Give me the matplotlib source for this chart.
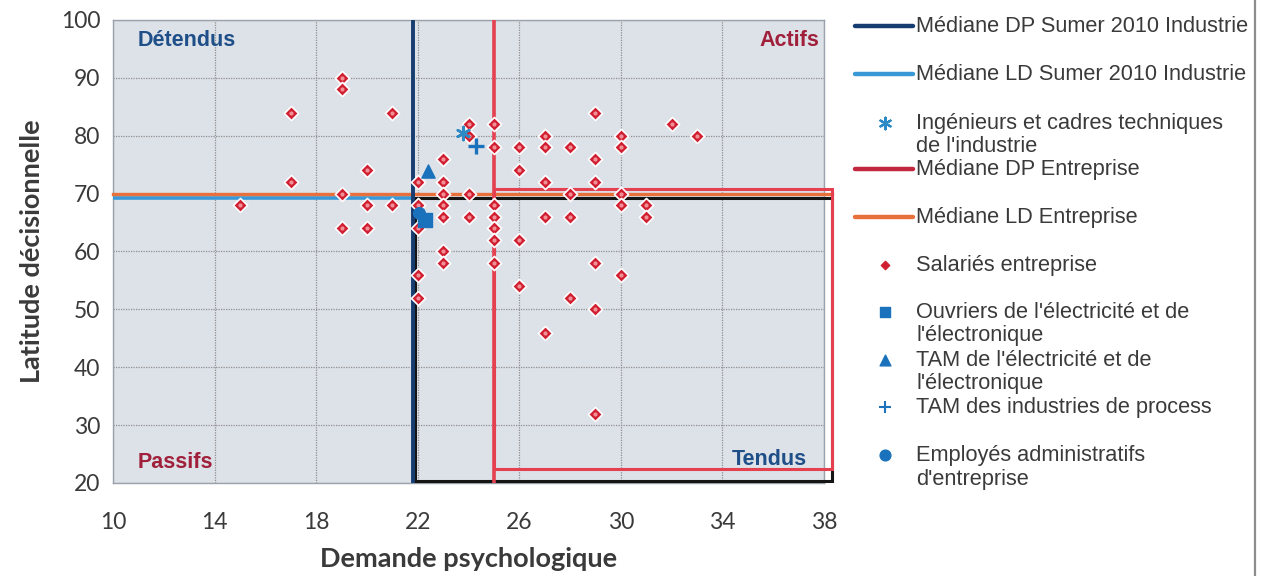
import matplotlib
matplotlib.use("Agg")
import matplotlib.pyplot as plt
from matplotlib.patches import Rectangle

# ---- data ----
sal_x = [19, 19, 17, 21, 20, 17, 19, 15, 20, 21, 19, 20,
         22, 22, 22, 22, 22,
         23, 23, 23, 23, 23, 23, 23,
         24, 24, 24, 24,
         25, 25, 25, 25, 25, 25, 25,
         26, 26, 26, 26,
         27, 27, 27, 27, 27,
         28, 28, 28, 28,
         29, 29, 29, 29, 29, 29,
         30, 30, 30, 30, 30,
         31, 31, 32, 33]
sal_y = [90, 88, 84, 84, 74, 72, 70, 68, 68, 68, 64, 64,
         72, 68, 64, 56, 52,
         76, 72, 70, 68, 66, 60, 58,
         82, 80, 70, 66,
         82, 78, 68, 66, 64, 62, 58,
         78, 74, 62, 54,
         80, 78, 72, 66, 46,
         78, 70, 66, 52,
         84, 76, 72, 58, 50, 32,
         80, 78, 70, 68, 56,
         68, 66, 82, 80]

ing_x, ing_y = [23.8], [80.4]        # Ingénieurs et cadres techniques
ouv_x, ouv_y = [22.3], [65.5]        # Ouvriers électricité
tame_x, tame_y = [22.4], [73.9]      # TAM électricité
tamp_x, tamp_y = [24.3], [78.2]      # TAM process
emp_x, emp_y = [22.05], [66.6]       # Employés administratifs

med_dp_sumer = 21.8
med_ld_sumer = 69.3
med_dp_ent = 25.0
med_ld_ent = 70.0
ent_box_top = 70.8
ent_box_bottom = 22.5
box_right = 38.3

xticks = [10, 14, 18, 22, 26, 30, 34, 38]
yticks = [20, 30, 40, 50, 60, 70, 80, 90, 100]

legend_labels = [
    "Médiane DP Sumer 2010 Industrie",
    "Médiane LD Sumer 2010 Industrie",
    "Ingénieurs et cadres techniques\nde l'industrie",
    "Médiane DP Entreprise",
    "Médiane LD Entreprise",
    "Salariés entreprise",
    "Ouvriers de l'électricité et de\nl'électronique",
    "TAM de l'électricité et de\nl'électronique",
    "TAM des industries de process",
    "Employés administratifs\nd'entreprise",
]

# ---- colours ----
c_navy = "#173d70"
c_lblue = "#3a98d6"
c_red = "#e4404f"
c_red_leg = "#c2283f"
c_orange = "#e8703a"
c_mark = "#d01f30"
c_blue = "#1a72bd"
c_ast = "#2d8ac4"

W, H = 1262, 576
fig = plt.figure(figsize=(W / 100, H / 100), dpi=100)
fig.patch.set_facecolor("white")

L, R, T, B = 113, 824, 20, 483
ax = fig.add_axes([L / W, 1 - B / H, (R - L) / W, (B - T) / H])
ax.set_facecolor("#dde1e8")
ax.set_xlim(10, 38)
ax.set_ylim(20, 100)
ax.set_xticks(xticks)
ax.set_yticks(yticks)
ax.grid(True, color="#8f8f8f", linestyle=(0, (1.0, 1.0)), linewidth=0.9)
ax.set_axisbelow(True)
for s in ax.spines.values():
    s.set_color("#9aa3ad")
    s.set_linewidth(1.0)
ax.tick_params(length=0, labelsize=16.5, labelcolor="#3a3a3a")
ax.tick_params(axis="x", pad=21)
ax.tick_params(axis="y", pad=9)
for lab in ax.get_xticklabels() + ax.get_yticklabels():
    lab.set_family("Lato")

ax.set_xlabel("Demande psychologique", fontsize=19.5, fontweight="bold",
              family="Lato", color="#3a3a3a", labelpad=10)
ax.set_ylabel("Latitude décisionnelle", fontsize=19.5, fontweight="bold",
              family="Lato", color="#3a3a3a", labelpad=12)

# median lines & quadrant boxes
ax.plot([10, med_dp_sumer], [med_ld_sumer, med_ld_sumer], color=c_lblue, lw=2.6, zorder=3)
ax.plot([10, box_right], [med_ld_ent, med_ld_ent], color=c_orange, lw=2.4,
        zorder=3, clip_on=False)
ax.add_patch(Rectangle((med_dp_sumer + 0.1, 20.4), box_right - med_dp_sumer - 0.1,
                       med_ld_sumer - 20.4, fill=False, ec="#151515", lw=2.2,
                       zorder=4, clip_on=False))
ax.add_patch(Rectangle((med_dp_ent, ent_box_bottom), box_right - med_dp_ent,
                       ent_box_top - ent_box_bottom, fill=False, ec=c_red, lw=2.2,
                       zorder=4, clip_on=False))
ax.plot([med_dp_ent, med_dp_ent], [20, 100], color=c_red, lw=2.6, zorder=4)
ax.plot([med_dp_sumer, med_dp_sumer], [20, 100], color=c_navy, lw=2.8, zorder=4)

# points
ax.scatter(sal_x, sal_y, marker="D", s=52, color=c_mark, edgecolors="white",
           linewidths=1.2, zorder=6)
ax.scatter(sal_x, sal_y, marker="o", s=4, color="#f29098", zorder=7)
ax.scatter(emp_x, emp_y, marker="o", s=70, color=c_blue, zorder=8)
ax.scatter(ouv_x, ouv_y, marker="s", s=100, color=c_blue, zorder=8)
ax.scatter(tame_x, tame_y, marker="^", s=90, color=c_blue, zorder=8)
ax.scatter(tamp_x, tamp_y, marker="+", s=130, color=c_blue, linewidths=2.4, zorder=8)
ax.scatter(ing_x, ing_y, marker=(6, 2, 0), s=90, color=c_ast, linewidths=1.8, zorder=8)

# quadrant labels
qkw = dict(fontsize=15.5, fontweight="bold", family="Liberation Sans", transform=ax.transAxes)
ax.text(0.034, 0.955, "Détendus", color="#1f4f88", ha="left", va="center", **qkw)
ax.text(0.993, 0.955, "Actifs", color="#a01f3a", ha="right", va="center", **qkw)
ax.text(0.034, 0.045, "Passifs", color="#a01f3a", ha="left", va="center", **qkw)
ax.text(0.976, 0.05, "Tendus", color="#1f4f88", ha="right", va="center", **qkw)

# ---- legend (drawn in pixel space) ----
lg = fig.add_axes([0, 0, 1, 1])
lg.set_xlim(0, W)
lg.set_ylim(H, 0)
lg.axis("off")
lg.patch.set_alpha(0)

entry_y = [26, 74, 123, 169, 217, 265, 312, 360, 407, 455]
kinds = [("line", c_navy), ("line", c_lblue), ("ast", c_ast), ("line", c_red_leg),
         ("line", c_orange), ("dia", c_mark), ("sq", c_blue), ("tri", c_blue),
         ("plus", c_blue), ("circ", c_blue)]
mx = 885
for y, (k, c), lab in zip(entry_y, kinds, legend_labels):
    if k == "line":
        lg.plot([855, 913], [y, y], color=c, lw=3.2, solid_capstyle="round")
    elif k == "ast":
        lg.scatter([mx], [y], marker=(6, 2, 0), s=70, color=c, linewidths=1.6)
    elif k == "dia":
        lg.scatter([mx], [y], marker="D", s=18, color=c)
    elif k == "sq":
        lg.scatter([mx], [y], marker="s", s=60, color=c)
    elif k == "tri":
        lg.scatter([mx], [y], marker="^", s=60, color=c)
    elif k == "plus":
        lg.scatter([mx], [y], marker="+", s=80, color=c, linewidths=1.5)
    elif k == "circ":
        lg.scatter([mx], [y], marker="o", s=60, color=c)
    for i, ln in enumerate(lab.split("\n")):
        lg.text(916, y + i * 24, ln, fontsize=15.7, family="Liberation Sans",
                color="#3a3a3a", ha="left", va="center")

# right border line
lg.plot([1255, 1255], [0, H], color="#8c8c8c", lw=1.6)

fig.savefig("out.png", dpi=100)
